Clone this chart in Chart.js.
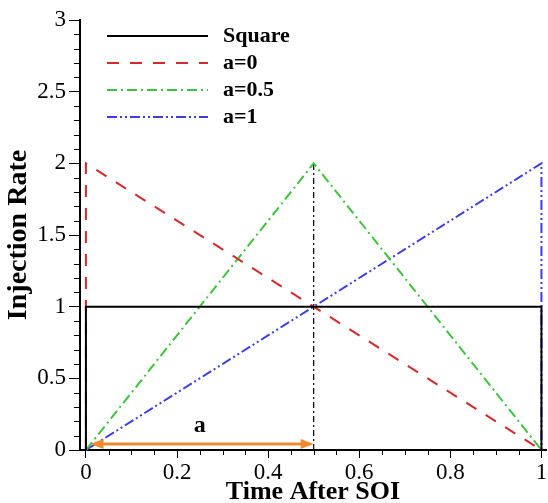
<!DOCTYPE html>
<html>
<head>
<meta charset="utf-8">
<script src="https://cdn.jsdelivr.net/npm/chart.js@4"></script>
<style>
  html, body { margin: 0; padding: 0; background: #fff; }
  #wrap { width: 548px; height: 503px; }
</style>
</head>
<body>
<div id="wrap"><canvas id="rateChart" width="548" height="503"></canvas></div>
<script>
/* ===============================
   Data
================================ */
const xTicks = [0, 0.2, 0.4, 0.6, 0.8, 1];
const yTicks = [0, 0.5, 1, 1.5, 2, 2.5, 3];

const seriesNames = ["Square", "a=0", "a=0.5", "a=1"];

const squareX = [0, 0, 1, 1];
const squareY = [0, 1, 1, 0];
const a0X = [0, 0, 1];
const a0Y = [0, 2, 0];
const a05X = [0, 0.5, 1];
const a05Y = [0, 2, 0];
const a1X = [0, 1, 1];
const a1Y = [0, 2, 0];

// vertical guide at the peak, and the "a" arrow
const guideX = [0.5, 0.5];
const guideY = [0, 2];
const arrowX = [0.01, 0.5];
const arrowY = [0.042, 0.042];
const arrowLabel = "a";
const arrowLabelPos = [0.25, 0.17];

const SERIF = "'Liberation Serif', 'Times New Roman', serif";

function pts(xs, ys) {
  return xs.map((x, i) => ({ x: x, y: ys[i] }));
}

/* ===============================
   Plugins: minor ticks, legend, arrow
================================ */
const minorTicks = {
  id: "minorTicks",
  afterDraw(chart) {
    const ctx = chart.ctx;
    const xs = chart.scales.x, ys = chart.scales.y;
    const area = chart.chartArea;
    ctx.save();
    ctx.strokeStyle = "#000";
    ctx.lineWidth = 1;
    for (let i = 1; i < 30; i++) {
      if (i % 5 === 0) continue;
      const py = Math.round(ys.getPixelForValue(i / 10)) + 0.5;
      ctx.beginPath();
      ctx.moveTo(area.left - 6, py);
      ctx.lineTo(area.left, py);
      ctx.stroke();
    }
    for (let i = 1; i < 20; i++) {
      if (i % 4 === 0) continue;
      const px = Math.round(xs.getPixelForValue(i / 20)) + 0.5;
      ctx.beginPath();
      ctx.moveTo(px, area.bottom);
      ctx.lineTo(px, area.bottom + 5);
      ctx.stroke();
    }
    ctx.restore();
  },
};

const boxLegend = {
  id: "boxLegend",
  afterDraw(chart) {
    const ctx = chart.ctx;
    ctx.save();
    ctx.font = "bold 22px " + SERIF;
    ctx.textBaseline = "middle";
    ctx.fillStyle = "#000";
    const rows = [36, 63, 90, 117];
    chart.data.datasets.forEach((ds, i) => {
      if (!ds.legend) return;
      const y = rows[i];
      ctx.strokeStyle = ds.borderColor;
      ctx.lineWidth = ds.borderWidth;
      ctx.setLineDash(ds.borderDash || []);
      ctx.beginPath();
      ctx.moveTo(107, y);
      ctx.lineTo(208, y);
      ctx.stroke();
      ctx.setLineDash([]);
      ctx.fillText(ds.label, 223, y);
    });
    ctx.restore();
  },
};

const arrowMark = {
  id: "arrowMark",
  afterDatasetsDraw(chart) {
    const ctx = chart.ctx;
    const xs = chart.scales.x, ys = chart.scales.y;
    const x1 = xs.getPixelForValue(arrowX[0]);
    const x2 = xs.getPixelForValue(arrowX[1]);
    const y = ys.getPixelForValue(arrowY[0]);
    ctx.save();
    ctx.strokeStyle = "#f08a30";
    ctx.fillStyle = "#f08a30";
    ctx.lineWidth = 3;
    ctx.beginPath();
    ctx.moveTo(x1 + 8, y);
    ctx.lineTo(x2 - 8, y);
    ctx.stroke();
    // heads
    ctx.beginPath();
    ctx.moveTo(x1, y);
    ctx.lineTo(x1 + 13, y - 5);
    ctx.lineTo(x1 + 13, y + 5);
    ctx.closePath();
    ctx.fill();
    ctx.beginPath();
    ctx.moveTo(x2, y);
    ctx.lineTo(x2 - 13, y - 5);
    ctx.lineTo(x2 - 13, y + 5);
    ctx.closePath();
    ctx.fill();
    ctx.font = "bold 24px " + SERIF;
    ctx.fillStyle = "#000";
    ctx.textAlign = "center";
    ctx.textBaseline = "middle";
    ctx.fillText(arrowLabel, xs.getPixelForValue(arrowLabelPos[0]), ys.getPixelForValue(arrowLabelPos[1]));
    ctx.restore();
  },
};

/* ===============================
   Chart
================================ */
function renderRateChart() {
  const ctx = document.getElementById("rateChart");
  if (!ctx) return;

  const base = { showLine: true, pointRadius: 0, fill: false, clip: false, tension: 0 };
  const plain = (v) => String(+Number(v).toFixed(2));

  new Chart(ctx, {
    type: "scatter",
    data: {
      datasets: [
        { ...base, label: seriesNames[0], legend: true, data: pts(squareX, squareY),
          borderColor: "#000000", borderWidth: 2, borderDash: [] },
        { ...base, label: seriesNames[1], legend: true, data: pts(a0X, a0Y),
          borderColor: "#d42a2a", borderWidth: 2, borderDash: [12, 11] },
        { ...base, label: seriesNames[2], legend: true, data: pts(a05X, a05Y),
          borderColor: "#3cc43c", borderWidth: 2, borderDash: [10, 4, 2, 4] },
        { ...base, label: seriesNames[3], legend: true, data: pts(a1X, a1Y),
          borderColor: "#3c3ce6", borderWidth: 2, borderDash: [10, 3, 2, 3, 2, 3] },
        { ...base, label: "guide", legend: false, data: pts(guideX, guideY),
          borderColor: "#000000", borderWidth: 1.2, borderDash: [6, 3, 2, 3] },
      ],
    },
    options: {
      responsive: false,
      animation: false,
      layout: { padding: { top: 20, right: 2, left: 0, bottom: 0 } },
      plugins: {
        legend: { display: false },
        tooltip: { enabled: false },
      },
      scales: {
        x: {
          type: "linear",
          min: -0.013,
          max: 1.01,
          afterBuildTicks: (s) => { s.ticks = xTicks.map((v) => ({ value: v })); },
          afterFit: (s) => { s.height = 53; s.paddingLeft = 0; s.paddingRight = 0; },
          grid: { drawOnChartArea: false, drawTicks: true, tickLength: 8, color: "#000", lineWidth: 1 },
          border: { display: true, color: "#000", width: 2 },
          ticks: { color: "#000", font: { family: SERIF, size: 23 }, padding: 1, maxRotation: 0, callback: plain },
          title: { display: true, text: "Time After SOI", color: "#000",
                   font: { family: SERIF, size: 26, weight: "bold", lineHeight: 0.8 }, padding: { top: 0, bottom: 0 } },
        },
        y: {
          type: "linear",
          min: 0,
          max: 3,
          afterBuildTicks: (s) => { s.ticks = yTicks.map((v) => ({ value: v })); },
          afterFit: (s) => { s.width = 80; s.paddingTop = 0; s.paddingBottom = 0; },
          grid: { drawOnChartArea: false, drawTicks: true, tickLength: 11, color: "#000", lineWidth: 1 },
          border: { display: true, color: "#000", width: 2 },
          ticks: { color: "#000", font: { family: SERIF, size: 23 }, padding: 3, callback: plain },
          title: { display: true, text: "Injection Rate", color: "#000",
                   font: { family: SERIF, size: 28, weight: "bold" }, padding: { top: 2, bottom: 0 } },
        },
      },
    },
    plugins: [minorTicks, boxLegend, arrowMark],
  });
}

renderRateChart();
</script>
</body>
</html>
